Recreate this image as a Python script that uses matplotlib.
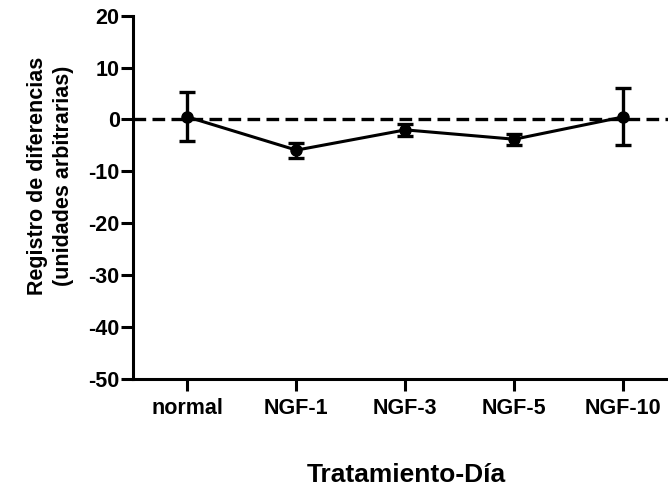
import matplotlib
matplotlib.use("Agg")
import matplotlib.pyplot as plt

plt.rcParams['font.family'] = ['Liberation Sans', 'DejaVu Sans']
plt.rcParams['font.weight'] = 'bold'
plt.rcParams['axes.unicode_minus'] = False

categorias = ['normal', 'NGF-1', 'NGF-3', 'NGF-5', 'NGF-10']
medias = [0.5, -5.9, -2.0, -3.8, 0.5]
errores = [4.7, 1.45, 1.1, 1.05, 5.5]

fig = plt.figure(figsize=(6.68, 4.88), dpi=100)
ax = fig.add_axes([0.199, 0.223, 0.801, 0.745])

x = list(range(len(categorias)))
ax.axhline(0, color='black', lw=2.4, ls=(0, (3.8, 1.9)), zorder=1)
ax.errorbar(x, medias, yerr=errores, color='black', lw=2.2, marker='o', ms=8,
            capsize=6, capthick=2.4, elinewidth=2.4, zorder=3)

ax.set_xlim(-0.5, 4.41)
ax.set_ylim(-50, 20)
ax.set_yticks(range(-50, 21, 10))
ax.set_xticks(x)
ax.set_xticklabels(categorias)

for s in ['top', 'right']:
    ax.spines[s].set_visible(False)
for s in ['left', 'bottom']:
    ax.spines[s].set_linewidth(2.2)
ax.tick_params(axis='both', width=2.2, length=8.5, labelsize=15.5, pad=1)
ax.tick_params(axis='x', pad=5)

ax.set_ylabel('Registro de diferencias\n(unidades arbitrarias)', fontsize=15.5,
              fontweight='bold', linespacing=1.3)
ax.yaxis.set_label_coords(-0.11, 0.56)
ax.set_xlabel('Tratamiento-Día', fontsize=19, fontweight='bold')
ax.xaxis.set_label_coords(0.51, -0.231)

fig.savefig('out.png', dpi=100)
